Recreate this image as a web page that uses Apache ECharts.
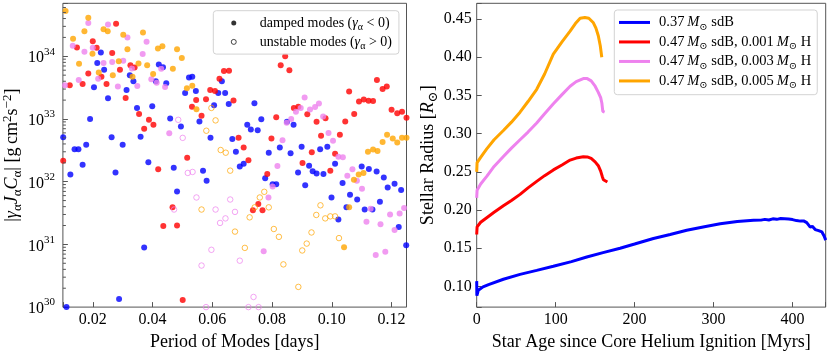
<!DOCTYPE html>
<html><head><meta charset="utf-8">
<script src="https://cdn.jsdelivr.net/npm/echarts@6/dist/echarts.min.js"></script>
<style>html,body{margin:0;padding:0;background:#fff}#c{width:830px;height:356px}</style>
</head><body><div id="c"></div>
<script>
const SERIF = '"Liberation Serif","DejaVu Serif",serif';
const FRAME = '#555555';
const COL_BLUE = '#0000ff', COL_RED = '#ff0000', COL_VIOLET = '#ee82ee', COL_ORANGE = '#ffa500';

// ---------- Left panel: [period (days), |gamma J C|] ----------
const blueDamped = [[0.0101,5.1e32],[0.0112,1.0e30],[0.0125,1.3e32],[0.0139,3.3e32],[0.0152,3.3e32],[0.0166,1.86e32],[0.0178,3.9e32],[0.0191,1.0e33],[0.0204,3.2e33],[0.0215,7.8e33],[0.0227,1.15e34],[0.0238,6.1e33],[0.0251,2.15e33],[0.0263,5.1e32],[0.0276,1.4e32],[0.0288,1.35e30],[0.0300,3.9e32],[0.0313,2.9e33],[0.0324,5.0e33],[0.0336,4.0e33],[0.0348,1.5e33],[0.0360,5.2e32],[0.0372,8.9e30],[0.0386,2.05e32],[0.0399,1.6e33],[0.0411,4.0e33],[0.0421,7.4e33],[0.0435,6.7e33],[0.0446,3.7e33],[0.0459,1.02e33],[0.0471,1.67e32],[0.0482,7.0e31],[0.0495,7.6e32],[0.0509,2.6e33],[0.0522,4.6e33],[0.0533,4.7e33],[0.0545,2.8e33],[0.0557,9.1e32],[0.0569,1.5e32],[0.0581,1.04e32],[0.0594,5.0e32],[0.0606,1.66e33],[0.0620,2.6e33],[0.0632,4.0e33],[0.0643,2.6e33],[0.0655,1.73e33],[0.0667,4.8e32],[0.0679,3.0e32],[0.0692,1.75e32],[0.0705,1.93e32],[0.0717,8.1e32],[0.0729,6.8e32],[0.0741,1.78e33],[0.0752,6.6e32],[0.0764,9.9e32],[0.0777,1.13e32],[0.0789,2.9e32],[0.0802,9.1e31],[0.0814,9.1e31],[0.0826,3.5e32],[0.0850,9.0e32],[0.0862,2.85e32],[0.0872,8.1e32],[0.0887,1.4e32],[0.0899,3.6e32],[0.0911,8.8e31],[0.0924,1.8e32],[0.0936,1.47e32],[0.0949,1.35e32],[0.0961,3.3e32],[0.0972,1.33e32],[0.0985,3.6e32],[0.0999,5.6e31],[0.1011,1.93e32],[0.1022,2.5e31],[0.1036,9.5e31],[0.1049,3.9e31],[0.1061,6.2e31],[0.1085,5.2e31],[0.1100,1.75e32],[0.1110,3.6e31],[0.1124,1.6e32],[0.1136,3.6e31],[0.1150,1.45e32],[0.1161,4.8e31],[0.1174,1.17e32],[0.1187,8.1e31],[0.1210,9.3e31],[0.1224,1.9e31],[0.1232,7.4e31],[0.1249,9.7e30]];
const redDamped = [[0.0101,2.15e32],[0.0123,3.45e33],[0.0147,1.38e34],[0.0166,3.6e33],[0.0185,5.3e33],[0.0200,1.74e34],[0.0213,1.37e34],[0.0229,4.7e33],[0.0246,3.6e33],[0.0265,1.13e34],[0.0278,3.3e34],[0.0291,6.1e33],[0.0310,2.17e33],[0.0326,7.2e33],[0.0340,6.6e33],[0.0355,1.2e33],[0.0372,7.0e32],[0.0388,9.7e32],[0.0403,8.1e32],[0.0419,1.58e32],[0.0436,1.96e31],[0.0467,3.9e31],[0.0482,2.0e31],[0.0501,1.3e30],[0.0516,2.4e32],[0.0532,1.57e33],[0.0546,2.0e33],[0.0564,1.13e33],[0.0579,2.07e33],[0.0593,2.9e33],[0.0609,2.8e33],[0.0624,4.4e33],[0.0639,5.8e33],[0.0656,5.9e33],[0.0671,1.98e33],[0.0688,5.0e32],[0.0705,3.5e32],[0.0721,2.2e32],[0.0736,3.5e31],[0.0754,4.4e31],[0.0768,3.5e31],[0.0784,1.33e32],[0.0798,4.9e32],[0.0814,1.07e33],[0.0829,7.2e33],[0.0844,1.0e34],[0.0858,6.0e33],[0.0873,1.5e33],[0.0888,1.57e33],[0.0902,1.98e32],[0.0918,1.19e33],[0.0933,2.95e32],[0.0949,9.0e32],[0.0964,5.4e32],[0.0979,1.03e33],[0.0995,1.5e32],[0.1011,2.8e32],[0.1027,5.6e32],[0.1045,9.1e32],[0.1058,2.75e33],[0.1075,1.2e33],[0.1091,1.9e33],[0.1107,2.05e33],[0.1123,1.95e33],[0.1138,1.93e33],[0.1151,4.2e33],[0.1170,3.0e33],[0.1184,3.3e33],[0.1200,1.4e33],[0.1219,1.23e33],[0.1235,1.3e33],[0.1250,1.05e33]];
const violetDamped = [[0.0107,3.45e33],[0.0133,1.47e34],[0.0153,4.2e33],[0.0172,1.18e34],[0.0185,3.4e34],[0.0200,1.37e34],[0.0218,4.4e33],[0.0236,7.8e33],[0.0251,3.2e34],[0.0265,8.1e33],[0.0284,3.3e33],[0.0302,8.5e33],[0.0316,2.0e34],[0.0331,6.4e33],[0.0349,3.35e33],[0.0367,1.09e34],[0.0380,1.7e34],[0.0396,4.3e33],[0.0414,3.8e33],[0.0429,6.3e33],[0.0442,3.25e33],[0.0456,5.9e32],[0.0772,7.8e30],[0.0788,5.6e31],[0.0802,8.4e31],[0.0818,1.78e32],[0.0835,4.6e32],[0.0849,8.7e32],[0.0864,1.0e33],[0.0880,1.3e33],[0.0896,1.5e33],[0.0909,2.2e33],[0.0927,1.42e33],[0.0944,1.55e33],[0.0957,1.76e33],[0.0971,1.1e33],[0.0989,6.0e32],[0.1004,4.5e32],[0.1022,2.5e32],[0.1037,2.45e32],[0.1052,1.24e32],[0.1069,1.58e32],[0.1084,1.04e32],[0.1101,7.7e31],[0.1116,2.3e31],[0.1130,3.7e31],[0.1147,6.8e30],[0.1163,2.1e31],[0.1179,7.6e30],[0.1195,3.0e31],[0.1210,1.7e31],[0.1227,3.1e31],[0.1242,3.8e31]];
const violetUnstable = [[0.0472,3.6e31],[0.0486,9.7e32],[0.0501,5.0e32],[0.0518,1.38e32],[0.0534,1.43e32],[0.0547,5.6e31],[0.0564,4.6e30],[0.0579,1.0e30],[0.0597,8.2e30],[0.0611,3.6e31],[0.0626,2.2e31],[0.0644,2.6e31],[0.0660,5.2e31],[0.0676,3.3e31],[0.0692,5.5e30],[0.0721,1.0e30],[0.0738,1.45e30],[0.0755,1.0e30]];
const orangeDamped = [[0.0109,5.3e34],[0.0134,1.9e34],[0.0154,7.6e33],[0.0172,2.5e34],[0.0185,4.1e34],[0.0199,1.1e34],[0.0220,5.5e33],[0.0236,2.7e34],[0.0250,2.5e34],[0.0267,5.0e33],[0.0287,8.3e33],[0.0302,2.2e34],[0.0316,1.3e34],[0.0333,4.7e33],[0.0353,7.7e33],[0.0368,2.4e34],[0.0382,7.2e33],[0.0402,5.2e33],[0.0418,1.33e34],[0.0433,1.45e34],[0.0468,6.3e33],[0.0482,1.3e34],[0.0498,9.4e33],[0.0515,3.1e33],[0.0533,3.4e33],[0.0547,1.43e33],[0.1041,9.0e30],[0.1058,3.9e31],[0.1074,1.07e32],[0.1090,1.3e32],[0.1106,1.38e32],[0.1121,3.0e32],[0.1138,3.25e32],[0.1153,3.1e32],[0.1170,4.3e32],[0.1185,5.6e32],[0.1204,4.9e32],[0.1219,4.2e32],[0.1235,5.0e32],[0.1250,5.0e32]];
const orangeUnstable = [[0.0564,3.6e31],[0.0580,6.5e32],[0.0597,1.5e33],[0.0611,9.5e32],[0.0628,3.2e32],[0.0645,2.9e32],[0.0660,1.5e32],[0.0676,1.6e31],[0.0709,8.8e30],[0.0725,2.7e31],[0.0742,3.9e31],[0.0759,5.6e31],[0.0774,6.9e31],[0.0789,3.9e31],[0.0806,1.76e31],[0.0823,1.32e31],[0.0838,4.8e30],[0.0888,2.1e30],[0.0901,8.0e30],[0.0916,1.03e31],[0.0932,1.55e31],[0.0948,2.95e31],[0.0962,4.2e31],[0.0978,2.6e31],[0.0995,2.8e31],[0.1011,2.8e31],[0.1024,1.26e31]];

const leftXRange = [0.01, 0.125];
const leftYRange = [1e30, 7e34];
const leftXStep = 0.02;

// ---------- Right panel: star age (Myr) vs radius (Rsun) ----------
const blueAge    = [0, 0.2, 2, 8, 15, 33.8, 54.9, 76, 97.1, 120, 139.4, 160, 181.6, 200, 223.8, 245, 266, 290, 308.4, 330, 350.6, 360, 365, 370, 375, 380, 385, 390, 395, 400, 405, 410, 414, 418, 420, 422.4, 425, 428.7, 433, 437.2, 440, 442];
const blueRadius = [0.107, 0.088, 0.095, 0.0995, 0.1025, 0.1094, 0.1158, 0.121, 0.1264, 0.1325, 0.1385, 0.1443, 0.150, 0.1555, 0.1628, 0.168, 0.1735, 0.1785, 0.182, 0.185, 0.1865, 0.1868, 0.1878, 0.187, 0.1885, 0.1878, 0.1888, 0.1885, 0.1882, 0.1875, 0.1862, 0.1855, 0.1858, 0.1835, 0.182, 0.1777, 0.1787, 0.1744, 0.173, 0.1713, 0.166, 0.1606];
const redAge     = [0, 0.5, 5, 12.7, 22, 33.8, 44, 54.9, 65, 76, 86, 97.1, 108, 118.3, 126, 135, 140, 145, 150, 154, 157, 159, 160.5, 162.6, 165.5];
const redRadius  = [0.168, 0.178, 0.184, 0.190, 0.197, 0.2055, 0.2125, 0.2205, 0.229, 0.2375, 0.245, 0.2525, 0.259, 0.2654, 0.268, 0.2696, 0.2695, 0.2675, 0.263, 0.258, 0.251, 0.244, 0.2397, 0.2385, 0.2367];
const violetAge    = [0, 0.5, 5, 12.7, 22, 33.8, 44, 54.9, 65, 76, 86, 97.1, 108, 118.3, 126, 135, 140, 145, 150, 154, 157, 158.5, 159.7, 162];
const violetRadius = [0.216, 0.226, 0.234, 0.244, 0.257, 0.270, 0.281, 0.292, 0.302, 0.314, 0.326, 0.339, 0.351, 0.362, 0.368, 0.372, 0.372, 0.369, 0.362, 0.354, 0.347, 0.340, 0.329, 0.328];
const orangeAge    = [0, 0.5, 5, 12.7, 22, 33.8, 44, 54.9, 65, 76, 86, 97, 108, 118.3, 125, 131, 137, 142, 147.8, 151, 154, 156.5, 158.4];
const orangeRadius = [0.250, 0.262, 0.269, 0.280, 0.292, 0.304, 0.315, 0.328, 0.342, 0.358, 0.378, 0.404, 0.420, 0.434, 0.444, 0.451, 0.452, 0.451, 0.445, 0.438, 0.428, 0.415, 0.400];
const rightXRange = [0, 442];
const rightYRange = [0.073, 0.4705];

const modelNames = ['m037', 'm047a', 'm047b', 'm047c'];
const modelLabels = {
  m037:  '{n|0.37\u2009}{i|M}{sub|\u2299}{n| sdB}',
  m047a: '{n|0.47\u2009}{i|M}{sub|\u2299}{n| sdB, 0.001\u2009}{i|M}{sub|\u2299}{n| H}',
  m047b: '{n|0.47\u2009}{i|M}{sub|\u2299}{n| sdB, 0.003\u2009}{i|M}{sub|\u2299}{n| H}',
  m047c: '{n|0.47\u2009}{i|M}{sub|\u2299}{n| sdB, 0.005\u2009}{i|M}{sub|\u2299}{n| H}'
};
const modeLabels = {
  damped: '{n|damped modes (}{i|\u03b3}{sub|\u03b1}{n| < 0)}',
  unstable: '{n|unstable modes (}{i|\u03b3}{sub|\u03b1}{n| > 0)}'
};

function zip(a, b) { return a.map((v, i) => [v, b[i]]); }

// minor tick positions of the log axis (2..9 x 10^n)
const minorTicks = [];
for (let e = 30; e <= 34; e++) for (let m = 2; m <= 9; m++) {
  const v = m * Math.pow(10, e);
  if (v < leftYRange[1]) minorTicks.push([leftXRange[0], v]);
}

function richSet(fs) {
  return {
    n:   { fontFamily: SERIF, fontSize: fs, color: '#000', lineHeight: fs + 5 },
    i:   { fontFamily: SERIF, fontSize: fs, fontStyle: 'italic', color: '#000', lineHeight: fs + 5 },
    sub: { fontFamily: SERIF, fontSize: Math.round(fs * 0.7), color: '#000', verticalAlign: 'bottom', lineHeight: fs + 2 },
    sup: { fontFamily: SERIF, fontSize: Math.round(fs * 0.7), color: '#000', verticalAlign: 'top', lineHeight: fs + 5 }
  };
}

const chart = echarts.init(document.getElementById('c'), null, { renderer: 'canvas' });

const tickStyle = { inside: true, length: 5, lineStyle: { color: FRAME, width: 1 } };

function scatter(name, data, color, hollow) {
  return {
    name, type: 'scatter', xAxisIndex: 0, yAxisIndex: 0, data,
    symbol: 'circle', symbolSize: hollow ? 5.5 : 6,
    itemStyle: hollow ? { color: 'rgba(0,0,0,0)', borderColor: color, borderWidth: 0.9 } : { color },
    emphasis: { disabled: true }, z: 3
  };
}
function line(name, ages, radii, color) {
  return {
    name, type: 'line', xAxisIndex: 1, yAxisIndex: 1, data: zip(ages, radii),
    showSymbol: false, symbol: 'none', lineStyle: { color, width: 3 }, itemStyle: { color },
    emphasis: { disabled: true }, z: 3
  };
}

const option = {
  animation: false,
  backgroundColor: '#fff',
  grid: [
    { left: 57.3, top: 3.3, width: 349.2, height: 311, show: true, borderColor: FRAME, borderWidth: 1, backgroundColor: 'transparent' },
    { left: 476.7, top: 3.3, width: 349, height: 310.3, show: true, borderColor: FRAME, borderWidth: 1, backgroundColor: 'transparent' }
  ],
  xAxis: [
    {
      gridIndex: 0, type: 'value', min: leftXRange[0], max: leftXRange[1], splitNumber: 6,
      axisLine: { show: false }, axisTick: tickStyle, splitLine: { show: false },
      axisLabel: { margin: 5, fontFamily: SERIF, fontSize: 16, color: '#000',
        formatter: v => (Math.abs(v / leftXStep - Math.round(v / leftXStep)) < 1e-6 ? v.toFixed(2) : '') },
      name: 'Period of Modes [days]', nameLocation: 'middle', nameGap: 17,
      nameTextStyle: { fontFamily: SERIF, fontSize: 18, color: '#000' }
    },
    {
      gridIndex: 1, type: 'value', min: rightXRange[0], max: rightXRange[1], interval: 100,
      axisLine: { show: false }, axisTick: tickStyle, splitLine: { show: false },
      axisLabel: { margin: 5, fontFamily: SERIF, fontSize: 16, color: '#000',
        formatter: v => (v % 100 === 0 ? String(v) : '') },
      name: 'Star Age since Core Helium Ignition [Myrs]', nameLocation: 'middle', nameGap: 17,
      nameTextStyle: { fontFamily: SERIF, fontSize: 18, color: '#000' }
    }
  ],
  yAxis: [
    {
      gridIndex: 0, type: 'log', logBase: 10, min: leftYRange[0], max: leftYRange[1],
      axisLine: { show: false }, axisTick: tickStyle, splitLine: { show: false }, minorTick: { show: false },
      axisLabel: {
        margin: 8, color: '#000',
        formatter: v => {
          const l = Math.log10(v), e = Math.round(l);
          return Math.abs(l - e) < 1e-6 ? '{b|10}{s|' + e + '}' : '';
        },
        rich: {
          b: { fontFamily: SERIF, fontSize: 16, color: '#000', verticalAlign: 'bottom', lineHeight: 20 },
          s: { fontFamily: SERIF, fontSize: 11, color: '#000', verticalAlign: 'top', lineHeight: 20 }
        }
      },
      name: '{n||}{i|\u03b3}{sub|\u03b1}{i|J}{sub|\u03b1}{i|C}{sub|\u03b1}{n|| [g\u2009cm}{sup|2}{n|s}{sup|\u22122}{n|]}',
      nameLocation: 'middle', nameGap: 33,
      nameTextStyle: { rich: richSet(18) }
    },
    {
      gridIndex: 1, type: 'value', min: rightYRange[0], max: rightYRange[1], splitNumber: 8,
      axisLine: { show: false }, axisTick: tickStyle, splitLine: { show: false },
      axisLabel: { margin: 5, fontFamily: SERIF, fontSize: 16, color: '#000',
        formatter: v => (Math.abs(v / 0.05 - Math.round(v / 0.05)) < 1e-6 ? v.toFixed(2) : '') },
      name: '{n|Stellar Radius [}{i|R}{sub|\u2299}{n|]}',
      nameLocation: 'middle', nameGap: 34,
      nameTextStyle: { rich: richSet(18) }
    }
  ],
  legend: [
    {
      orient: 'vertical', left: 213.3, top: 10.7,
      backgroundColor: 'rgba(255,255,255,0.85)', borderColor: '#d3d3d3', borderWidth: 1, borderRadius: 3,
      padding: [2.7, 7, 2.7, 17.5], itemWidth: 5, itemHeight: 5, itemGap: 0, selectedMode: false,
      data: [
        { name: 'damped', icon: 'circle', itemStyle: { color: '#000' } },
        { name: 'unstable', icon: 'circle', itemStyle: { color: 'rgba(0,0,0,0)', borderColor: '#000', borderWidth: 0.9 } }
      ],
      formatter: n => modeLabels[n],
      textStyle: { fontFamily: SERIF, fontSize: 14, lineHeight: 20, padding: [0, 0, 0, 18.5], rich: richSet(14) }
    },
    {
      orient: 'vertical', left: 614.3, top: 10,
      backgroundColor: 'rgba(255,255,255,0.85)', borderColor: '#d3d3d3', borderWidth: 1, borderRadius: 3,
      padding: [2.7, 6, 4, 4.7], itemWidth: 31, itemHeight: 3, itemGap: 0, selectedMode: false,
      icon: 'rect',
      data: modelNames,
      formatter: n => modelLabels[n],
      textStyle: { fontFamily: SERIF, fontSize: 14.5, lineHeight: 20, padding: [0, 0, 0, 4], rich: richSet(14.5) }
    }
  ],
  series: [
    { name: 'damped', type: 'scatter', xAxisIndex: 0, yAxisIndex: 0, data: [], itemStyle: { color: '#000' } },
    { name: 'unstable', type: 'scatter', xAxisIndex: 0, yAxisIndex: 0, data: [], itemStyle: { color: 'rgba(0,0,0,0)', borderColor: '#000', borderWidth: 0.9 } },
    scatter('blueD', blueDamped, COL_BLUE, false),
    scatter('redD', redDamped, COL_RED, false),
    scatter('violetD', violetDamped, COL_VIOLET, false),
    scatter('violetU', violetUnstable, COL_VIOLET, true),
    scatter('orangeD', orangeDamped, COL_ORANGE, false),
    scatter('orangeU', orangeUnstable, COL_ORANGE, true),
    {
      name: 'minorTicks', type: 'custom', xAxisIndex: 0, yAxisIndex: 0, data: minorTicks, silent: true, z: 4,
      renderItem: (params, api) => {
        const p = api.coord([api.value(0), api.value(1)]);
        return { type: 'line', shape: { x1: p[0], y1: p[1], x2: p[0] + 3, y2: p[1] }, style: { stroke: FRAME, lineWidth: 1 } };
      }
    },
    line('m037', blueAge, blueRadius, COL_BLUE),
    line('m047a', redAge, redRadius, COL_RED),
    line('m047b', violetAge, violetRadius, COL_VIOLET),
    line('m047c', orangeAge, orangeRadius, COL_ORANGE)
  ]
};
chart.setOption(option);
</script>
</body></html>
